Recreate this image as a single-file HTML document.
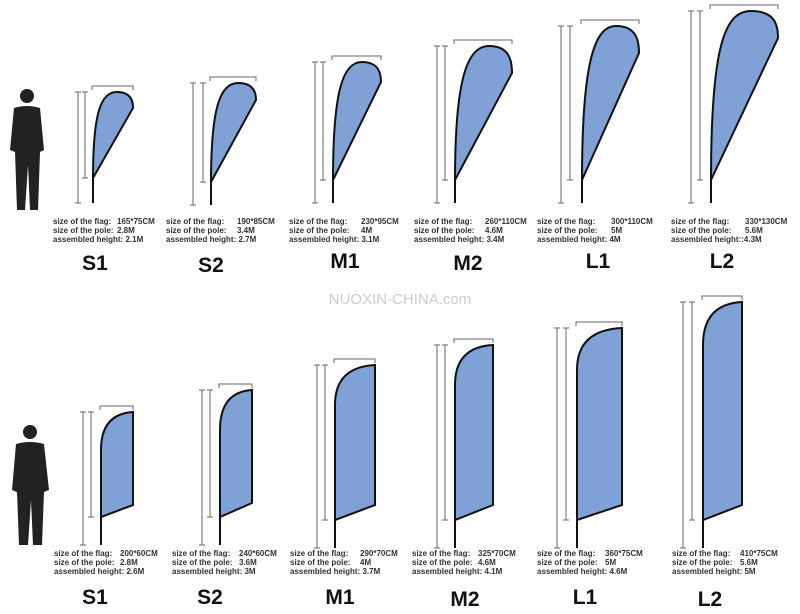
<!DOCTYPE html><html><head><style>body{margin:0;background:#fff}svg{display:block}</style></head><body>
<svg width="800" height="614" xmlns="http://www.w3.org/2000/svg" font-family="Liberation Sans, sans-serif">
<rect width="800" height="614" fill="#fff"/>
<g fill="#222">
<circle cx="27" cy="96" r="7"/><path d="M14,108 Q27,104 40,108 L44,150 L40,152 L38,210 L30,210 L28,165 L25,210 L17,210 L15,152 L10,150 Z"/>
<circle cx="30" cy="432" r="7"/><path d="M16,444 Q30,440 44,444 L49,490 L44,492 L42,545 L33,545 L31,500 L28,545 L19,545 L17,492 L12,490 Z"/>
</g>
<g fill="#7fa1d6" stroke="#111" stroke-width="2">
<path d="M93,178 C93,112 101,92 117,92 C130,92 133,100 133,108 Z"/>
<path d="M211,182 C211,108 220,83 238,83 C253,83 256,92 256,100 Z"/>
<path d="M333,180 C333,90 343,62 362,62 C378,62 381,72 381,82 Z"/>
<path d="M455,180 C455,76 468,46 489,46 C509,46 512,60 512,73 Z"/>
<path d="M582,180 C582,60 595,26 616,26 C636,26 639,40 639,53 Z"/>
<path d="M711,180 C711,45 725,11 751,11 C775,11 778,25 778,38 Z"/>
<path d="M101,517 L101,450 Q101,414 133,412 L133,505 Z"/>
<path d="M220,517 L220,430 Q220,392 252,390 L252,503 Z"/>
<path d="M335,520 L335,405 Q335,367 375,365 L375,505 Z"/>
<path d="M455,520 L455,385 Q455,347 493,345 L493,505 Z"/>
<path d="M577,520 L577,370 Q577,330 622,328 L622,505 Z"/>
<path d="M703,520 L703,345 Q703,304 742,302 L742,505 Z"/>
</g>
<g stroke="#111" stroke-width="2">
<line x1="93" y1="178" x2="93" y2="203"/><line x1="211" y1="182" x2="211" y2="205"/>
<line x1="333" y1="180" x2="333" y2="203"/><line x1="455" y1="180" x2="455" y2="203"/>
<line x1="582" y1="180" x2="582" y2="203"/><line x1="711" y1="180" x2="711" y2="203"/>
<line x1="101" y1="517" x2="101" y2="545"/><line x1="220" y1="517" x2="220" y2="545"/>
<line x1="335" y1="520" x2="335" y2="548"/><line x1="455" y1="520" x2="455" y2="548"/>
<line x1="577" y1="520" x2="577" y2="548"/><line x1="703" y1="520" x2="703" y2="548"/>
</g>
<g stroke="#666" stroke-width="1" fill="none">
<path d="M78,92v111M75,92h6M75,203h6M85,92v86M82,92h6M82,178h6M92,90v-4h41v4"/>
<path d="M193,83v122M190,83h6M190,205h6M203,83v99M200,83h6M200,182h6M210,81v-4h46v4"/>
<path d="M315,62v141M312,62h6M312,203h6M323,62v118M320,62h6M320,180h6M332,60v-4h49v4"/>
<path d="M437,46v157M434,46h6M434,203h6M445,46v134M442,46h6M442,180h6M454,44v-4h58v4"/>
<path d="M561,26v177M558,26h6M558,203h6M570,26v154M567,26h6M567,180h6M581,24v-4h58v4"/>
<path d="M691,11v192M688,11h6M688,203h6M700,11v169M697,11h6M697,180h6M710,9v-4h68v4"/>
<path d="M83,412v133M80,412h6M80,545h6M91,412v105M88,412h6M88,517h6M100,410v-4h33v4"/>
<path d="M202,390v155M199,390h6M199,545h6M210,390v127M207,390h6M207,517h6M219,388v-4h33v4"/>
<path d="M317,365v183M314,365h6M314,548h6M325,365v155M322,365h6M322,520h6M334,363v-4h41v4"/>
<path d="M437,345v203M434,345h6M434,548h6M445,345v175M442,345h6M442,520h6M454,343v-4h39v4"/>
<path d="M557,328v220M554,328h6M554,548h6M566,328v192M563,328h6M563,520h6M576,326v-4h46v4"/>
<path d="M683,302v246M680,302h6M680,548h6M692,302v218M689,302h6M689,520h6M702,300v-4h40v4"/>
</g>
<text x="400" y="304" font-size="15" fill="#ccc" text-anchor="middle">NUOXIN-CHINA.com</text>
<g font-size="8" font-weight="bold" fill="#333">
<text x="53" y="224">size of the flag:</text><text x="53" y="233">size of the pole:</text><text x="53" y="242">assembled height: 2.1M</text>
<text x="117" y="224">165*75CM</text><text x="117" y="233">2.8M</text>
<text x="166" y="224">size of the flag:</text><text x="166" y="233">size of the pole:</text><text x="166" y="242">assembled height: 2.7M</text>
<text x="237" y="224">190*85CM</text><text x="237" y="233">3.4M</text>
<text x="289" y="224">size of the flag:</text><text x="289" y="233">size of the pole:</text><text x="289" y="242">assembled height: 3.1M</text>
<text x="361" y="224">230*95CM</text><text x="361" y="233">4M</text>
<text x="414" y="224">size of the flag:</text><text x="414" y="233">size of the pole:</text><text x="414" y="242">assembled height: 3.4M</text>
<text x="485" y="224">260*110CM</text><text x="485" y="233">4.6M</text>
<text x="537" y="224">size of the flag:</text><text x="537" y="233">size of the pole:</text><text x="537" y="242">assembled height: 4M</text>
<text x="611" y="224">300*110CM</text><text x="611" y="233">5M</text>
<text x="671" y="224">size of the flag:</text><text x="671" y="233">size of the pole:</text><text x="671" y="242">assembled height::4.3M</text>
<text x="745" y="224">330*130CM</text><text x="745" y="233">5.6M</text>
<text x="54" y="556">size of the flag:</text><text x="54" y="565">size of the pole:</text><text x="54" y="574">assembled height: 2.6M</text>
<text x="120" y="556">200*60CM</text><text x="120" y="565">2.8M</text>
<text x="172" y="556">size of the flag:</text><text x="172" y="565">size of the pole:</text><text x="172" y="574">assembled height: 3M</text>
<text x="239" y="556">240*60CM</text><text x="239" y="565">3.6M</text>
<text x="290" y="556">size of the flag:</text><text x="290" y="565">size of the pole:</text><text x="290" y="574">assembled height: 3.7M</text>
<text x="360" y="556">290*70CM</text><text x="360" y="565">4M</text>
<text x="412" y="556">size of the flag:</text><text x="412" y="565">size of the pole:</text><text x="412" y="574">assembled height: 4.1M</text>
<text x="478" y="556">325*70CM</text><text x="478" y="565">4.6M</text>
<text x="537" y="556">size of the flag:</text><text x="537" y="565">size of the pole:</text><text x="537" y="574">assembled height: 4.6M</text>
<text x="605" y="556">360*75CM</text><text x="605" y="565">5M</text>
<text x="672" y="556">size of the flag:</text><text x="672" y="565">size of the pole:</text><text x="672" y="574">assembled height: 5M</text>
<text x="740" y="556">410*75CM</text><text x="740" y="565">5.6M</text>
</g>
<g font-size="21" font-weight="bold" fill="#111" text-anchor="middle">
<text x="95" y="270">S1</text><text x="211" y="272">S2</text><text x="345" y="268">M1</text><text x="468" y="270">M2</text><text x="598" y="268">L1</text><text x="722" y="268">L2</text>
<text x="95" y="604">S1</text><text x="210" y="604">S2</text><text x="340" y="604">M1</text><text x="465" y="606">M2</text><text x="585" y="604">L1</text><text x="710" y="606">L2</text>
</g>
</svg></body></html>
